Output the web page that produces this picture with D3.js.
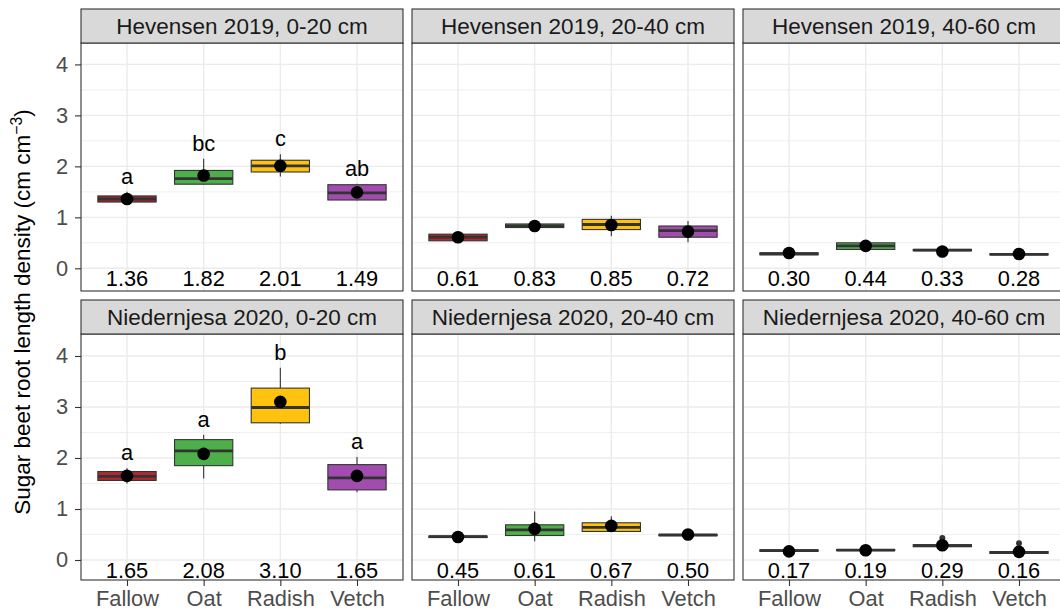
<!DOCTYPE html>
<html>
<head>
<meta charset="utf-8">
<script src="https://cdn.jsdelivr.net/npm/d3@7"></script>
<style>
  body { margin: 0; background: #fff; }
  svg { font-family: "Liberation Sans", Arial, sans-serif; }
</style>
</head>
<body>
<svg id="chart" width="1060" height="611"></svg>
<script>
// Tratamentos e painéis
const treatments = ["Fallow", "Oat", "Radish", "Vetch"];
const panelTitles = [
  "Hevensen 2019, 0-20 cm", "Hevensen 2019, 20-40 cm", "Hevensen 2019, 40-60 cm",
  "Niedernjesa 2020, 0-20 cm", "Niedernjesa 2020, 20-40 cm", "Niedernjesa 2020, 40-60 cm"
];
const treatColors = ["#b2272d", "#4daf4a", "#ffc20e", "#a24cb0"];

// Estatísticas do boxplot por painel (ordem: Fallow, Oat, Radish, Vetch)
const lowWhisker = [
  [1.24, 1.64, 1.80, 1.33], [0.53, 0.79, 0.63, 0.51], [0.25, 0.36, 0.30, 0.26],
  [1.50, 1.60, 2.67, 1.33], [0.43, 0.37, 0.55, 0.47], [0.08, 0.18, 0.25, 0.11]
];
const q1 = [
  [1.30, 1.65, 1.89, 1.34], [0.54, 0.80, 0.76, 0.61], [0.265, 0.37, 0.345, 0.265],
  [1.56, 1.85, 2.69, 1.375], [0.44, 0.48, 0.56, 0.48], [0.17, 0.185, 0.26, 0.13]
];
const medians = [
  [1.36, 1.76, 2.01, 1.48], [0.61, 0.83, 0.86, 0.74], [0.285, 0.44, 0.355, 0.275],
  [1.64, 2.14, 2.99, 1.61], [0.46, 0.59, 0.64, 0.49], [0.185, 0.195, 0.28, 0.15]
];
const q3 = [
  [1.42, 1.92, 2.12, 1.64], [0.67, 0.87, 0.96, 0.83], [0.305, 0.50, 0.37, 0.285],
  [1.735, 2.36, 3.37, 1.87], [0.47, 0.69, 0.73, 0.50], [0.20, 0.205, 0.30, 0.165]
];
const highWhisker = [
  [1.50, 2.15, 2.24, 1.66], [0.68, 0.88, 1.03, 0.93], [0.37, 0.51, 0.375, 0.29],
  [1.80, 2.455, 3.77, 2.02], [0.48, 0.95, 0.86, 0.56], [0.21, 0.21, 0.33, 0.20]
];
const means = [
  [1.36, 1.82, 2.01, 1.49], [0.61, 0.83, 0.85, 0.72], [0.30, 0.44, 0.33, 0.28],
  [1.65, 2.08, 3.10, 1.65], [0.45, 0.61, 0.67, 0.50], [0.17, 0.19, 0.29, 0.16]
];
const outliers = [
  [[], [], [], []], [[], [], [], []], [[], [], [], []],
  [[], [], [], []], [[], [], [], []], [[], [], [0.43], [0.33]]
];
const letters = [
  ["a", "bc", "c", "ab"], null, null,
  ["a", "a", "b", "a"], null, null
];
const yTicks = [0, 1, 2, 3, 4];
const yMinor = [0.5, 1.5, 2.5, 3.5];

// Layout
const svg = d3.select("#chart");
const colX = [81, 412, 743];
const panelW = 322;
const stripTop = [9, 300];
const stripH = 34;
const panelBottom = [291, 580];
const yDomains = [[-0.445, 4.42], [-0.392, 4.431]];
const fontSize = 21.8;
const stripFont = 22.5;

panelTitles.forEach((title, p) => {
  const row = Math.floor(p / 3), col = p % 3;
  const x0 = colX[col];
  const top = stripTop[row] + stripH, bottom = panelBottom[row];
  const xs = d3.scalePoint().domain(treatments).range([x0, x0 + panelW]).padding(0.6);
  const bw = xs.step() * 0.76;
  const y = d3.scaleLinear().domain(yDomains[row]).range([bottom, top]);

  const g = svg.append("g");

  // grelha
  g.selectAll(".minor").data(yMinor).enter().append("line")
    .attr("x1", x0).attr("x2", x0 + panelW)
    .attr("y1", d => y(d)).attr("y2", d => y(d))
    .attr("stroke", "#ebebeb").attr("stroke-width", 0.8);
  g.selectAll(".major").data(yTicks).enter().append("line")
    .attr("x1", x0).attr("x2", x0 + panelW)
    .attr("y1", d => y(d)).attr("y2", d => y(d))
    .attr("stroke", "#ebebeb").attr("stroke-width", 1.4);
  g.selectAll(".vmajor").data(treatments).enter().append("line")
    .attr("x1", d => xs(d)).attr("x2", d => xs(d))
    .attr("y1", top).attr("y2", bottom)
    .attr("stroke", "#ebebeb").attr("stroke-width", 1.4);

  treatments.forEach((t, i) => {
    const cx = xs(t);
    // bigodes
    g.append("line").attr("x1", cx).attr("x2", cx)
      .attr("y1", y(highWhisker[p][i])).attr("y2", y(q3[p][i]))
      .attr("stroke", "#333").attr("stroke-width", 1.1);
    g.append("line").attr("x1", cx).attr("x2", cx)
      .attr("y1", y(q1[p][i])).attr("y2", y(lowWhisker[p][i]))
      .attr("stroke", "#333").attr("stroke-width", 1.1);
    // caixa
    g.append("rect")
      .attr("x", cx - bw / 2).attr("width", bw)
      .attr("y", y(q3[p][i])).attr("height", Math.max(0.5, y(q1[p][i]) - y(q3[p][i])))
      .attr("fill", treatColors[i]).attr("stroke", "#333").attr("stroke-width", 1.1);
    g.append("line")
      .attr("x1", cx - bw / 2).attr("x2", cx + bw / 2)
      .attr("y1", y(medians[p][i])).attr("y2", y(medians[p][i]))
      .attr("stroke", "#333").attr("stroke-width", 2.8);
    // outliers
    outliers[p][i].forEach(o => {
      g.append("circle").attr("cx", cx).attr("cy", y(o)).attr("r", 3).attr("fill", "#333");
    });
    // média
    g.append("circle").attr("cx", cx).attr("cy", y(means[p][i])).attr("r", 6.3).attr("fill", "#000");
    // valor médio
    g.append("text").attr("x", cx).attr("y", y(-0.2))
      .attr("text-anchor", "middle").attr("dominant-baseline", "central")
      .attr("font-size", fontSize).attr("fill", "#000")
      .text(means[p][i].toFixed(2));
    // letras
    if (letters[p]) {
      const maxV = d3.max([highWhisker[p][i], ...outliers[p][i]]);
      g.append("text").attr("x", cx).attr("y", y(maxV + 0.3))
        .attr("text-anchor", "middle").attr("dominant-baseline", "central")
        .attr("font-size", fontSize).attr("fill", "#000")
        .text(letters[p][i]);
    }
  });

  // borda do painel
  g.append("rect").attr("x", x0).attr("y", top).attr("width", panelW).attr("height", bottom - top)
    .attr("fill", "none").attr("stroke", "#333").attr("stroke-width", 1.1);

  // strip
  g.append("rect").attr("x", x0).attr("y", stripTop[row]).attr("width", panelW).attr("height", stripH)
    .attr("fill", "#d9d9d9").attr("stroke", "#333").attr("stroke-width", 1.1);
  g.append("text").attr("x", x0 + panelW / 2).attr("y", stripTop[row] + stripH / 2)
    .attr("text-anchor", "middle").attr("dominant-baseline", "central")
    .attr("font-size", stripFont).attr("fill", "#1a1a1a").text(title);

  // eixos
  if (col === 0) {
    const ax = d3.axisLeft(y).tickValues(yTicks).tickSize(6).tickPadding(7).tickFormat(d3.format("d"));
    const a = g.append("g").attr("transform", `translate(${x0},0)`).call(ax);
    a.select(".domain").remove();
    a.selectAll(".tick line").attr("stroke", "#333").attr("stroke-width", 1.1);
    a.selectAll(".tick text").attr("font-size", fontSize).attr("fill", "#4d4d4d")
      .attr("font-family", "Liberation Sans, Arial, sans-serif");
  }
  if (row === 1) {
    const ax = d3.axisBottom(xs).tickSize(6).tickPadding(5);
    const a = g.append("g").attr("transform", `translate(0,${bottom})`).call(ax);
    a.select(".domain").remove();
    a.selectAll(".tick line").attr("stroke", "#333").attr("stroke-width", 1.1);
    a.selectAll(".tick text").attr("font-size", fontSize).attr("fill", "#4d4d4d")
      .attr("font-family", "Liberation Sans, Arial, sans-serif");
  }
});

// título do eixo y
const yt = svg.append("text")
  .attr("transform", "translate(30,312) rotate(-90)")
  .attr("text-anchor", "middle").attr("font-size", stripFont).attr("fill", "#000");
yt.append("tspan").text("Sugar beet root length density (cm cm");
yt.append("tspan").attr("font-size", stripFont * 0.7).attr("dy", -8).text("\u22123");
yt.append("tspan").attr("dy", 8).text(")");
</script>
</body>
</html>
